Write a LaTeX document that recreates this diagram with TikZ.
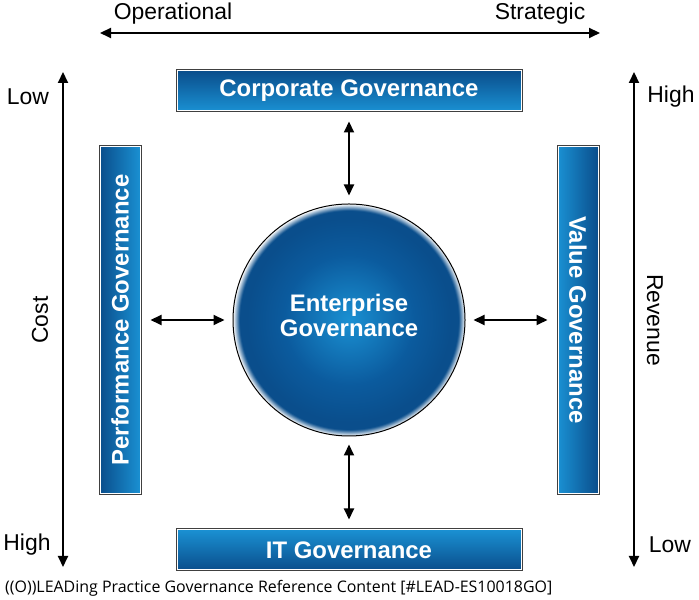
\documentclass[tikz,border=0pt]{standalone}
\usepackage{fontspec}
\setmainfont{Liberation Sans}
\newfontfamily\footfont{Open Sans}
\usetikzlibrary{arrows.meta,positioning}

\definecolor{govdark}{HTML}{0A4E8C}
\definecolor{govlight}{HTML}{1A90D2}
\definecolor{govmid}{HTML}{0B5B9E}

% radial fill for the central circle
\pgfdeclareradialshading{enterpriseshade}{\pgfpoint{0bp}{0bp}}{%
  color(0bp)=(govlight); color(14bp)=(govmid); color(22bp)=(govdark);
  color(23.6bp)=(govdark); color(25bp)=(white)}

\begin{document}
\begin{tikzpicture}[
	x=1bp, y=1bp,
	govbox/.style={rectangle, minimum width=344bp, minimum height=40bp, inner sep=0pt,
		preaction={draw=black!75, line width=3bp}, draw=white, line width=1bp,
		top color=govdark, bottom color=govlight,
		text=white, font=\fontsize{24}{28}\selectfont\bfseries},
	govbar/.style={govbox, minimum width=347bp},
	axislabel/.style={font=\fontsize{23}{26}\selectfont},
	axis/.style={{Triangle[length=11bp,width=10bp]}-{Triangle[length=11bp,width=10bp]}, line width=2bp},
	>={Triangle[length=11bp,width=10bp]}
	]
	
	\useasboundingbox (0,0) rectangle (699,600);
	
	%-----------------------
	% Axes
	%-----------------------
	\coordinate (opL) at (100,567);
	\coordinate (opR) at (600,567);
	\coordinate (costT) at (63,528);
	\coordinate (costB) at (63,33);
	\coordinate (revT) at (634,528);
	\coordinate (revB) at (634,33);
	
	\draw[axis] (opL) -- (opR);
	\draw[axis] (costT) -- (costB);
	\draw[axis] (revT) -- (revB);
	
	\node[axislabel] (operational) at (173,586) {Operational};
	\node[axislabel] (strategic) at (540,586) {Strategic};
	
	\node[axislabel] (costlow) at (28,503) {Low};
	\node[axislabel] (costhigh) at (27,55) {High};
	\node[axislabel, rotate=90] (cost) at (40,280) {Cost};
	
	\node[axislabel] (revhigh) at (671,503) {High};
	\node[axislabel] (revlow) at (670,55) {Low};
	\node[axislabel, rotate=-90] (revenue) at (655,280) {Revenue};
	
	%-----------------------
	% Governance boxes
	%-----------------------
	\node[govbox] (corp) at (349,509) {Corporate Governance};
	\node[govbox, top color=govlight, bottom color=govdark] (itgov) at (349,50) {IT Governance};
	\node[govbar, rotate=90, left color=govdark, right color=govlight] (perf) at (120,280) {Performance Governance};
	\node[govbar, rotate=-90, left color=govlight, right color=govdark] (value) at (578,280) {Value Governance};
	
	%-----------------------
	% Enterprise circle
	%-----------------------
	\node[circle, minimum size=232bp, draw=black, line width=1bp, shading=enterpriseshade,
		text=white, align=center, font=\fontsize{24}{25}\selectfont\bfseries] (ent) at (349,280)
		{Enterprise\\Governance\\[-16bp]\mbox{}};
	
	%-----------------------
	% Connections
	%-----------------------
	\tikzset{connect/.style={<->, line width=2bp, shorten >=8bp, shorten <=10bp}}
	
	\draw[connect] (corp.south) -- (ent.north);
	\draw[connect] (itgov.north) -- (ent.south);
	\draw[connect] (perf.south) -- (ent.west);
	\draw[connect] (value.south) -- (ent.east);
	
	%-----------------------
	% Footer
	%-----------------------
	\node[anchor=west, inner sep=0pt, font=\footfont\fontsize{16}{18}\selectfont] (footer) at (5,12)
		{((O))LEADing Practice Governance Reference Content [\#LEAD-ES10018GO]};
	
\end{tikzpicture}
\end{document}
